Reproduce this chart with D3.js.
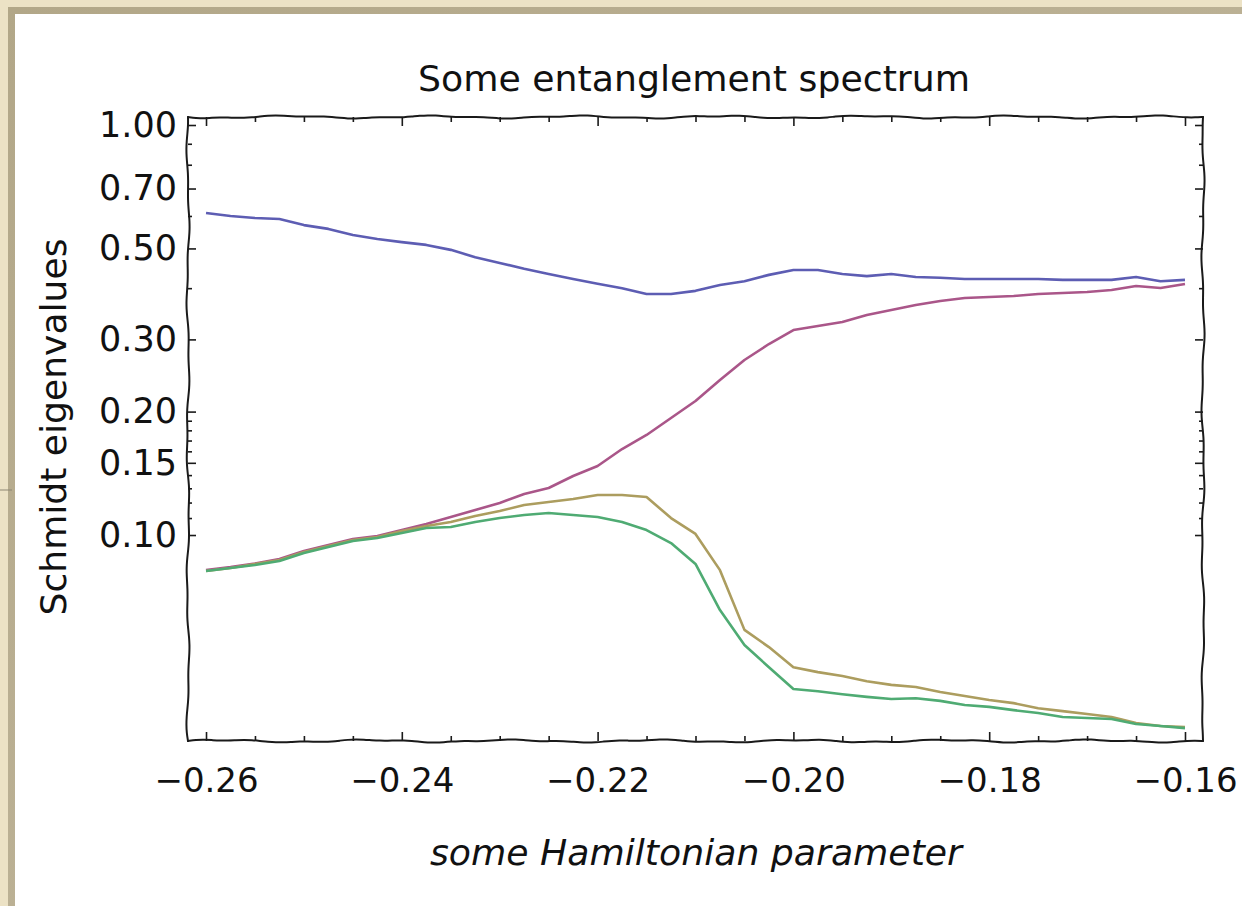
<!DOCTYPE html>
<html>
<head>
<meta charset="utf-8">
<script src="https://cdn.jsdelivr.net/npm/d3@7"></script>
<style>
  html, body { margin: 0; padding: 0; background: #ece2c5; }
  svg { display: block; }
  text { font-family: "DejaVu Sans", "Noto Sans", sans-serif; fill: #111; }
</style>
</head>
<body>
<svg id="chart" width="1242" height="906"></svg>
<script>
// Hamiltonian parameter sample points
const params = [-0.26, -0.2575, -0.255, -0.2525, -0.25, -0.2475, -0.245, -0.2425, -0.24, -0.2375,
  -0.235, -0.2325, -0.23, -0.2275, -0.225, -0.2225, -0.22, -0.2175, -0.215, -0.2125,
  -0.21, -0.2075, -0.205, -0.2025, -0.20, -0.1975, -0.195, -0.1925, -0.19, -0.1875,
  -0.185, -0.1825, -0.18, -0.1775, -0.175, -0.1725, -0.17, -0.1675, -0.165, -0.1625, -0.16];

// Four largest Schmidt eigenvalues
const lambda1 = [0.610, 0.600, 0.593, 0.590, 0.570, 0.558, 0.539, 0.527, 0.518, 0.510,
  0.496, 0.476, 0.461, 0.446, 0.433, 0.421, 0.410, 0.400, 0.387, 0.387,
  0.394, 0.407, 0.416, 0.431, 0.443, 0.443, 0.433, 0.428, 0.433, 0.426,
  0.424, 0.421, 0.421, 0.421, 0.421, 0.419, 0.419, 0.419, 0.426, 0.416, 0.419];
const lambda2 = [0.0821, 0.0835, 0.0852, 0.0874, 0.0914, 0.0945, 0.0978, 0.0994, 0.1028, 0.1064,
  0.1106, 0.1151, 0.1197, 0.1259, 0.1302, 0.1393, 0.1473, 0.1621, 0.1754, 0.1929,
  0.2122, 0.2388, 0.2672, 0.2923, 0.3162, 0.3234, 0.3308, 0.3441, 0.3539, 0.3639,
  0.3722, 0.3785, 0.3807, 0.3828, 0.3871, 0.3893, 0.3915, 0.3959, 0.4049, 0.4004, 0.4095];
const lambda3 = [0.0817, 0.0831, 0.0850, 0.0869, 0.0909, 0.0940, 0.0972, 0.0989, 0.1023, 0.1052,
  0.1076, 0.1113, 0.1144, 0.1184, 0.1204, 0.1224, 0.1252, 0.1252, 0.1238, 0.1100,
  0.1006, 0.0821, 0.0587, 0.0533, 0.0476, 0.0463, 0.0453, 0.0440, 0.0431, 0.0426,
  0.0414, 0.0405, 0.0396, 0.0389, 0.0378, 0.0372, 0.0366, 0.0360, 0.0348, 0.0342, 0.0340];
const lambda4 = [0.0817, 0.0831, 0.0845, 0.0864, 0.0904, 0.0935, 0.0967, 0.0983, 0.1011, 0.1040,
  0.1046, 0.1076, 0.1100, 0.1119, 0.1132, 0.1119, 0.1106, 0.1076, 0.1028, 0.0956,
  0.0850, 0.0656, 0.0539, 0.0476, 0.0421, 0.0416, 0.0409, 0.0403, 0.0398, 0.0400,
  0.0394, 0.0385, 0.0381, 0.0374, 0.0368, 0.0360, 0.0358, 0.0356, 0.0346, 0.0342, 0.0338];

const seriesColors = ["#5d5db3", "#aa5689", "#ac9d5e", "#4fab73"];

// Axis ticks
const xMajor = [-0.26, -0.24, -0.22, -0.20, -0.18, -0.16];
const xMinor = [-0.255, -0.25, -0.245, -0.235, -0.23, -0.225, -0.215, -0.21, -0.205,
  -0.195, -0.19, -0.185, -0.175, -0.17, -0.165];
const yMajor = [1.0, 0.7, 0.5, 0.3, 0.2, 0.15, 0.1];
const yMinor = [0.9, 0.8, 0.6, 0.4, 0.19, 0.18, 0.17, 0.16, 0.14, 0.13, 0.12, 0.11];

const titleText = "Some entanglement spectrum";
const xLabelText = "some Hamiltonian parameter";
const yLabelText = "Schmidt eigenvalues";

const svg = d3.select("#chart");
const W = 1242, H = 906;

// Page mat and white card
svg.append("rect").attr("width", W).attr("height", H).attr("fill", "#ece2c5");
const grad = svg.append("defs").append("linearGradient")
  .attr("id", "edge").attr("x1", 0).attr("y1", 0).attr("x2", 1).attr("y2", 1);
grad.append("stop").attr("offset", "0%").attr("stop-color", "#b2a788");
grad.append("stop").attr("offset", "100%").attr("stop-color", "#c4baa0");
svg.append("rect").attr("x", 8).attr("y", 7).attr("width", W).attr("height", H).attr("fill", "url(#edge)");
svg.append("rect").attr("x", 15).attr("y", 14).attr("width", W).attr("height", H).attr("fill", "#ffffff");
svg.append("line").attr("x1", 0).attr("x2", 12).attr("y1", 490).attr("y2", 490)
  .attr("stroke", "#8d8672").attr("stroke-width", 1);

const frame = { left: 188, right: 1203, top: 117, bottom: 741 };

const x = d3.scaleLinear().domain([-0.26184, -0.15816]).range([frame.left, frame.right]);
const y = d3.scaleLog().domain([0.03145, 1.046]).range([frame.bottom, frame.top]);

const fmt = d3.format(".2f");
const tickStyle = g => {
  g.select(".domain").remove();
  g.selectAll(".tick line").attr("stroke", "#1a1a1a").attr("stroke-width", 1.6);
};

// Bottom axis with labels
svg.append("g").attr("transform", `translate(0,${frame.bottom})`)
  .call(d3.axisBottom(x).tickValues(xMajor).tickSize(-9).tickPadding(27).tickFormat(fmt))
  .call(tickStyle)
  .call(g => g.selectAll("text").attr("font-size", 34).attr("fill", "#111"));
svg.append("g").attr("transform", `translate(0,${frame.bottom})`)
  .call(d3.axisBottom(x).tickValues(xMinor).tickSize(-5).tickFormat(""))
  .call(tickStyle);
// Top axis
svg.append("g").attr("transform", `translate(0,${frame.top})`)
  .call(d3.axisTop(x).tickValues(xMajor).tickSize(-9).tickFormat(""))
  .call(tickStyle);
svg.append("g").attr("transform", `translate(0,${frame.top})`)
  .call(d3.axisTop(x).tickValues(xMinor).tickSize(-5).tickFormat(""))
  .call(tickStyle);
// Left axis with labels
svg.append("g").attr("transform", `translate(${frame.left},0)`)
  .call(d3.axisLeft(y).tickValues(yMajor).tickSize(-8).tickPadding(11).tickFormat(fmt))
  .call(tickStyle)
  .call(g => g.selectAll("text").attr("font-size", 35).attr("fill", "#111"));
svg.append("g").attr("transform", `translate(${frame.left},0)`)
  .call(d3.axisLeft(y).tickValues(yMinor).tickSize(-4).tickFormat(""))
  .call(tickStyle);
// Right axis
svg.append("g").attr("transform", `translate(${frame.right},0)`)
  .call(d3.axisRight(y).tickValues(yMajor).tickSize(-8).tickFormat(""))
  .call(tickStyle);
svg.append("g").attr("transform", `translate(${frame.right},0)`)
  .call(d3.axisRight(y).tickValues(yMinor).tickSize(-4).tickFormat(""))
  .call(tickStyle);

// Hand-drawn looking frame: each side gets a gentle wobble
const wobble = (t, s) => 1.1 * Math.sin(t / 23 + s) + 0.6 * Math.sin(t / 8.3 + 2.1 * s);
function side(x0, y0, x1, y1, s) {
  const len = Math.hypot(x1 - x0, y1 - y0);
  const n = Math.ceil(len / 8);
  const nx = -(y1 - y0) / len, ny = (x1 - x0) / len;
  const pts = [];
  for (let i = 0; i <= n; i++) {
    const t = i / n;
    const taper = Math.min(1, i, n - i);
    const d = wobble(t * len, s) * taper;
    pts.push([x0 + (x1 - x0) * t + nx * d, y0 + (y1 - y0) * t + ny * d]);
  }
  return pts;
}
const frameLine = d3.line().curve(d3.curveBasis);
[
  side(frame.left, frame.top, frame.right, frame.top, 0.4),
  side(frame.right, frame.top, frame.right, frame.bottom, 1.7),
  side(frame.right, frame.bottom, frame.left, frame.bottom, 2.9),
  side(frame.left, frame.bottom, frame.left, frame.top, 4.2)
].forEach(pts => {
  svg.append("path").attr("d", frameLine(pts))
    .attr("fill", "none").attr("stroke", "#1a1a1a").attr("stroke-width", 2)
    .attr("stroke-linecap", "round");
});

// Eigenvalue curves
const filt = svg.select("defs").append("filter").attr("id", "soft");
filt.append("feGaussianBlur").attr("stdDeviation", 0.45);

const line = d3.line().x((d, i) => x(params[i])).y(d => y(d));
[lambda1, lambda2, lambda3, lambda4].forEach((vals, k) => {
  svg.append("path").attr("d", line(vals))
    .attr("fill", "none").attr("stroke", seriesColors[k])
    .attr("stroke-width", 2.6).attr("stroke-linejoin", "round")
    .attr("filter", "url(#soft)");
});

// Titles
svg.append("text").attr("x", 694).attr("y", 91).attr("text-anchor", "middle")
  .attr("font-size", 35).attr("textLength", 552).attr("lengthAdjust", "spacingAndGlyphs")
  .text(titleText);
svg.append("text").attr("x", 696).attr("y", 865).attr("text-anchor", "middle")
  .attr("font-size", 35).attr("font-style", "italic")
  .attr("textLength", 532).attr("lengthAdjust", "spacingAndGlyphs")
  .text(xLabelText);
svg.append("text").attr("transform", "translate(66,427) rotate(-90)").attr("text-anchor", "middle")
  .attr("font-size", 35).attr("textLength", 377).attr("lengthAdjust", "spacingAndGlyphs")
  .text(yLabelText);
</script>
</body>
</html>
